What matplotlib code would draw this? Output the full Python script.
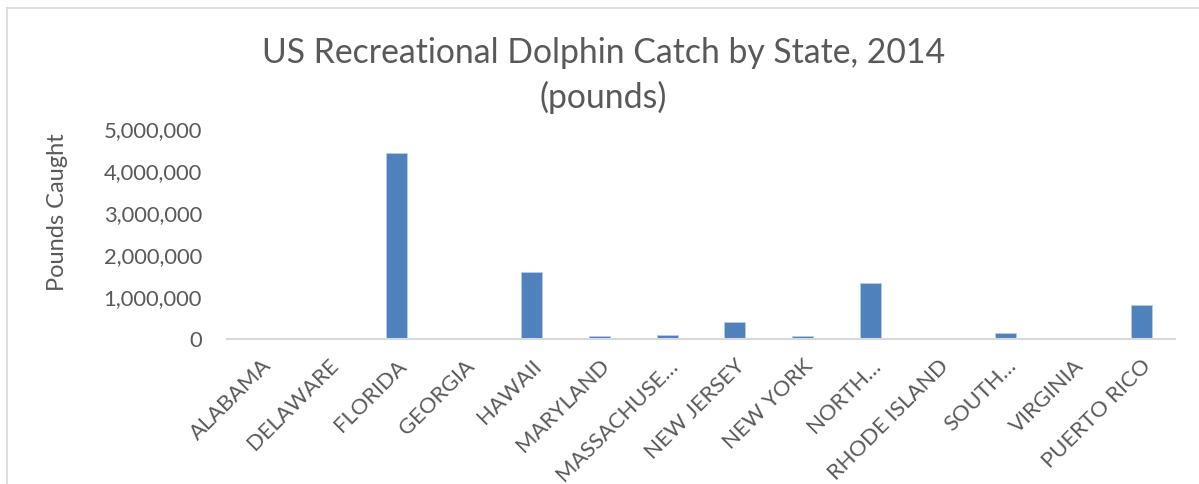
import matplotlib
matplotlib.use("Agg")
import matplotlib.pyplot as plt
from matplotlib.ticker import FuncFormatter
from matplotlib.lines import Line2D

states = ["ALABAMA", "DELAWARE", "FLORIDA", "GEORGIA", "HAWAII", "MARYLAND",
          "MASSACHUSE…", "NEW JERSEY", "NEW YORK", "NORTH…", "RHODE ISLAND",
          "SOUTH…", "VIRGINIA", "PUERTO RICO"]
pounds = [0, 8000, 4420000, 6000, 1600000, 80000, 90000, 400000, 80000,
          1330000, 5000, 135000, 5000, 800000]
yticks = [0, 1000000, 2000000, 3000000, 4000000, 5000000]

plt.rcParams['font.family'] = ['Lato', 'DejaVu Sans']
text_color = '#595959'

fig = plt.figure(figsize=(11.99, 4.84), dpi=100)
ax = fig.add_axes([227/1199, 1-339/484, (1175-227)/1199, (339-129)/484])

x = list(range(len(states)))
ax.bar(x, pounds, width=0.31, color='#4f81bd', edgecolor='#b9cde5', linewidth=0.6)
ax.set_xlim(-0.5, len(states) - 0.5)
ax.set_ylim(0, 5000000)
ax.set_yticks(yticks)
ax.yaxis.set_major_formatter(FuncFormatter(lambda v, p: f"{int(v):,}"))
ax.set_xticks(x)
ax.set_xticklabels(states, rotation=45, ha='right', rotation_mode='anchor')

for s in ['top', 'right', 'left']:
    ax.spines[s].set_visible(False)
ax.spines['bottom'].set_color('#d9d9d9')
ax.spines['bottom'].set_linewidth(1.5)
ax.tick_params(axis='both', length=0, colors=text_color, labelsize=15.8)
ax.tick_params(axis='y', pad=18)
ax.tick_params(axis='x', pad=12)

ax.set_ylabel("Pounds Caught", color=text_color, fontsize=17)
ax.yaxis.set_label_coords(-(227 - 68) / 948, (339 - 212) / 210)

fig.text(0.503, 1-63/484, "US Recreational Dolphin Catch by State, 2014",
         ha='center', va='baseline', fontsize=24.3, color=text_color)
fig.text(0.503, 1-108/484, "(pounds)",
         ha='center', va='baseline', fontsize=24.3, color=text_color)

# chart border (left and top)
fig.add_artist(Line2D([7/1199, 7/1199], [0, 1-8/484], transform=fig.transFigure,
                      color='#d9d9d9', linewidth=1.2))
fig.add_artist(Line2D([7/1199, 1], [1-8/484, 1-8/484], transform=fig.transFigure,
                      color='#d9d9d9', linewidth=1.2))

fig.savefig("out.png", dpi=100)
